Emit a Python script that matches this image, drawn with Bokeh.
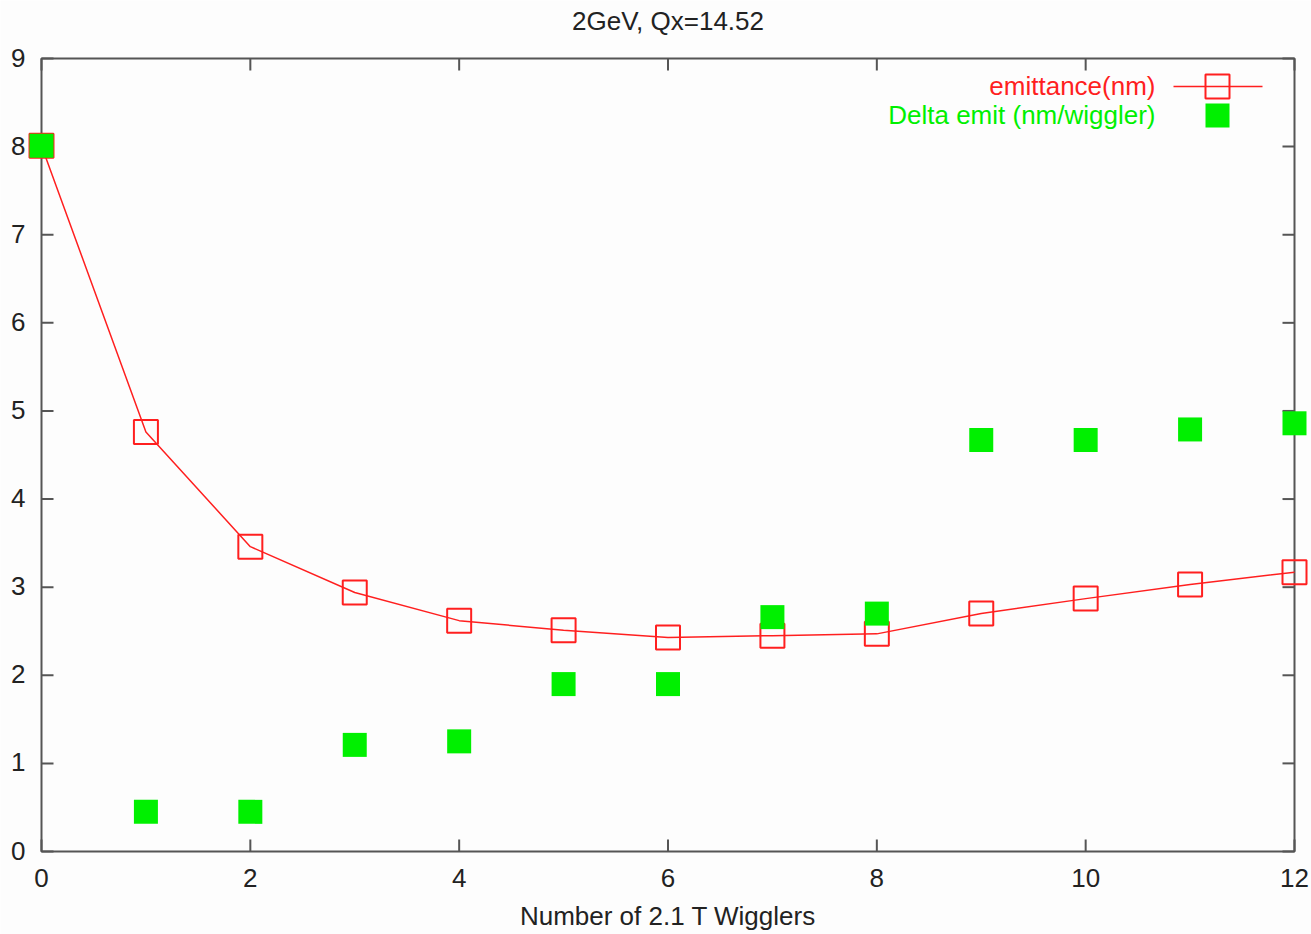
import math
from bokeh.plotting import figure
from bokeh.models import Range1d, ColumnDataSource
from bokeh.core.properties import value
from bokeh.embed import file_html
from bokeh.resources import INLINE

# ---- data ----
wigglers = [0, 1, 2, 3, 4, 5, 6, 7, 8, 9, 10, 11, 12]
emittance = [8.01, 4.76, 3.46, 2.94, 2.62, 2.51, 2.43, 2.45, 2.47, 2.70, 2.87, 3.03, 3.17]
delta_emit = [8.01, 0.45, 0.45, 1.21, 1.25, 1.90, 1.90, 2.66, 2.70, 4.67, 4.67, 4.79, 4.86]
x_ticks = [0, 2, 4, 6, 8, 10, 12]
y_ticks = [0, 1, 2, 3, 4, 5, 6, 7, 8, 9]
title_text = "2GeV, Qx=14.52"
x_label = "Number of 2.1 T Wigglers"
series_names = ["emittance(nm)", "Delta emit (nm/wiggler)"]

# ---- style / layout ----
W, H = 1311, 934
BOX_L, BOX_R, BOX_T, BOX_B = 41, 1294, 58, 851   # pixel box of the plot area
XMIN, XMAX, YMIN, YMAX = 0, 12, 0, 9
XS = (BOX_R - BOX_L) / (XMAX - XMIN)
YS = (BOX_B - BOX_T) / (YMAX - YMIN)

def px2x(px):
    return XMIN + (px - BOX_L) / XS

def py2y(py):
    return YMIN + (BOX_B - py) / YS

RED = "#ff1f1f"
GREEN = "#00f000"
FRAME = "#555555"
TXT = "#222222"
FONT = "Liberation Sans"
FS = "26px"
BG = "#fdfdfd"
TICK = 12
DY = -10  # baseline correction

p = figure(width=W, height=H, output_backend="svg", toolbar_location=None,
           x_range=Range1d(px2x(0), px2x(W)), y_range=Range1d(py2y(H), py2y(0)),
           x_axis_type=None, y_axis_type=None, min_border=0)
p.background_fill_color = BG
p.border_fill_color = BG
p.outline_line_color = None
p.grid.visible = False

# plot box
p.quad(left=[XMIN], right=[XMAX], bottom=[YMIN], top=[YMAX], fill_color=None,
       line_color=FRAME, line_width=2)

# ticks on all four sides (inward)
nx, ny = len(x_ticks), len(y_ticks)
p.ray(x=x_ticks, y=[YMIN] * nx, length=TICK, length_units="screen",
      angle=math.pi / 2, line_color=FRAME, line_width=2)
p.ray(x=x_ticks, y=[YMAX] * nx, length=TICK, length_units="screen",
      angle=-math.pi / 2, line_color=FRAME, line_width=2)
p.ray(x=[XMIN] * ny, y=y_ticks, length=TICK, length_units="screen",
      angle=0, line_color=FRAME, line_width=2)
p.ray(x=[XMAX] * ny, y=y_ticks, length=TICK, length_units="screen",
      angle=math.pi, line_color=FRAME, line_width=2)

# tick labels
p.text(x=x_ticks, y=[YMIN] * nx, text=[str(t) for t in x_ticks], y_offset=36 + DY,
       text_align="center", text_baseline="alphabetic", text_font=value(FONT),
       text_font_size=FS, text_color=TXT)
p.text(x=[XMIN] * ny, y=y_ticks, text=[str(t) for t in y_ticks], x_offset=-16,
       y_offset=9 + DY, text_align="right", text_baseline="alphabetic",
       text_font=value(FONT), text_font_size=FS, text_color=TXT)

# axis label and title
xc = (XMIN + XMAX) / 2
p.text(x=[xc], y=[YMIN], text=[x_label], y_offset=74 + DY, text_align="center",
       text_baseline="alphabetic", text_font=value(FONT), text_font_size=FS,
       text_color=TXT)
p.text(x=[xc], y=[YMAX], text=[title_text], y_offset=-28 + DY, text_align="center",
       text_baseline="alphabetic", text_font=value(FONT), text_font_size=FS,
       text_color=TXT)

# data
src = ColumnDataSource(dict(x=wigglers, e=emittance, d=delta_emit))
p.line("x", "e", source=src, line_color=RED, line_width=1.5)
p.scatter("x", "e", source=src, marker="square", size=24, fill_color=None,
          line_color=RED, line_width=2)
p.scatter("x", "d", source=src, marker="square", size=24, fill_color=GREEN,
          line_color=None)

# legend (gnuplot style: right-aligned text, sample on the right)
LEG_TEXT_R = 1155
LEG_ROWS = [86, 115]
LEG_LINE = (1173, 1262)
LEG_MARK = 1217
p.text(x=[px2x(LEG_TEXT_R)] * 2, y=[py2y(r) for r in LEG_ROWS], text=series_names,
       y_offset=9 + DY, text_color=[RED, GREEN], text_font=value(FONT),
       text_font_size=FS, text_align="right", text_baseline="alphabetic")
p.line(x=[px2x(LEG_LINE[0]), px2x(LEG_LINE[1])], y=[py2y(LEG_ROWS[0])] * 2,
       line_color=RED, line_width=1.5)
p.scatter(x=[px2x(LEG_MARK)], y=[py2y(LEG_ROWS[0])], marker="square", size=24,
          fill_color=None, line_color=RED, line_width=2)
p.scatter(x=[px2x(LEG_MARK)], y=[py2y(LEG_ROWS[1])], marker="square", size=24,
          fill_color=GREEN, line_color=None)

open("out.html", "w").write(file_html(p, INLINE))
